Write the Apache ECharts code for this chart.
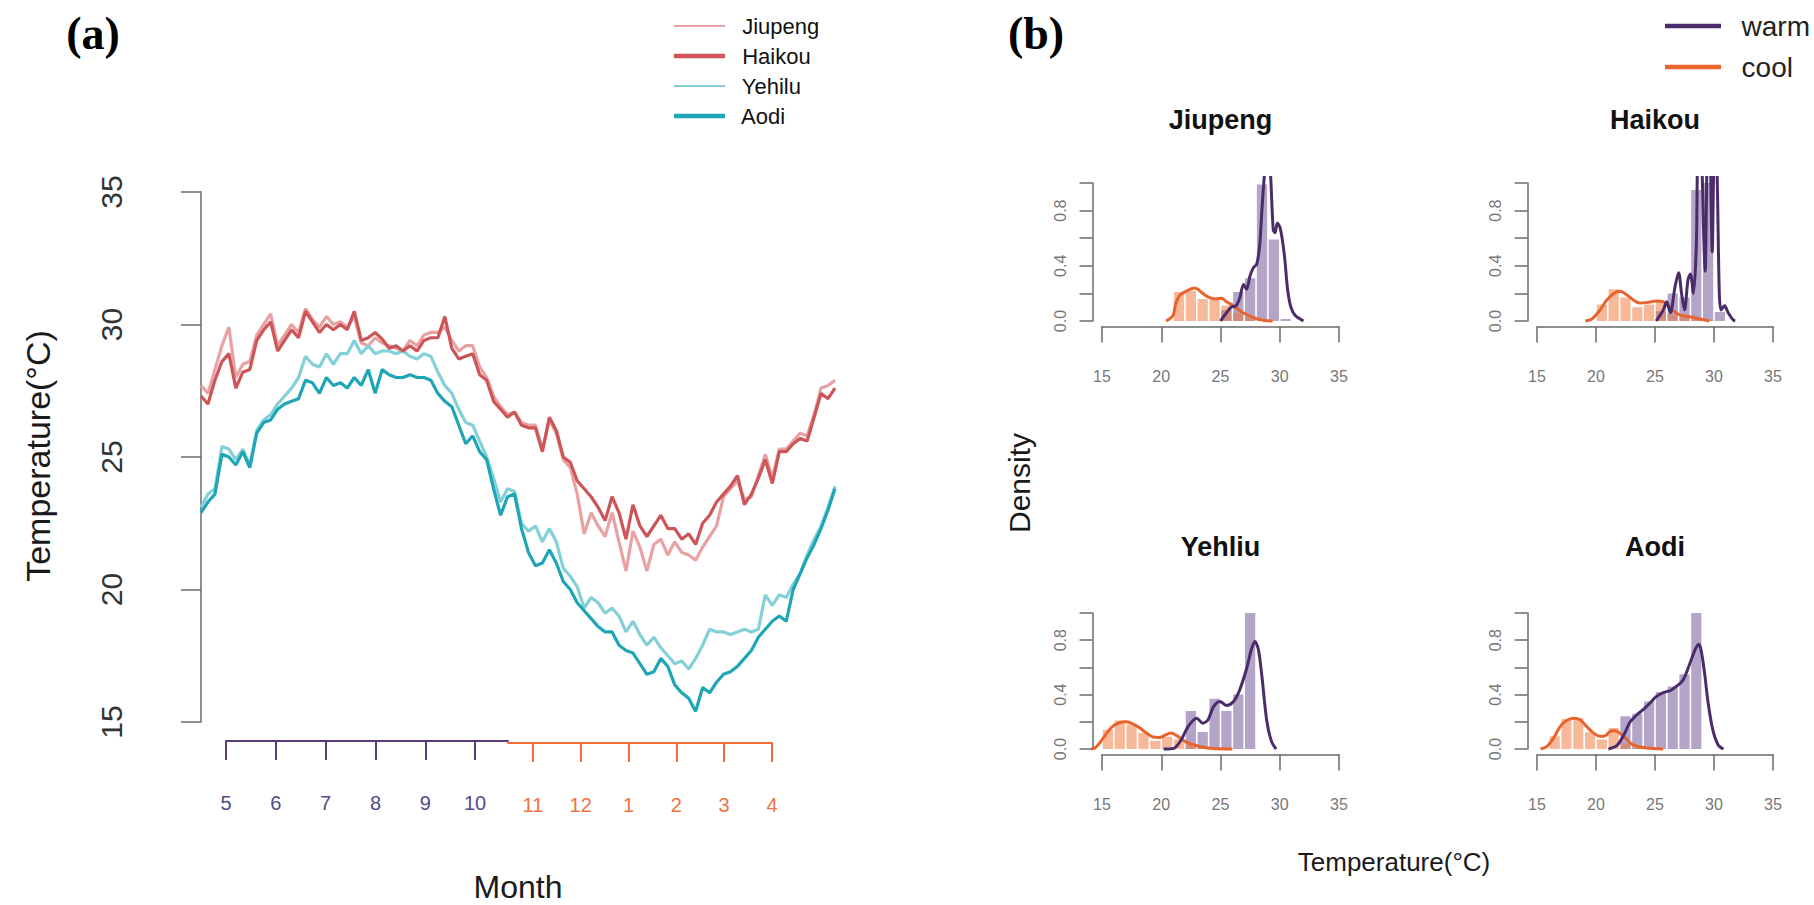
<!DOCTYPE html>
<html>
<head>
<meta charset="utf-8">
<title>Temperature by month and density</title>
<script src="https://cdn.jsdelivr.net/npm/echarts@6/dist/echarts.min.js"></script>
<style>
  html, body { margin: 0; padding: 0; background: #fff; }
  #main { width: 1814px; height: 905px; }
</style>
</head>
<body>
<div id="main"></div>
<script>
// ---- panel (a): temperature every 4 days, starting 1 May ----
var days = [0, 4, 8, 12, 16, 20, 24, 28, 32, 36, 40, 44, 48, 52, 56, 60, 64, 68, 72, 76,
  80, 84, 88, 92, 96, 100, 104, 108, 112, 116, 120, 124, 128, 132, 136, 140, 144, 148, 152, 156,
  160, 164, 168, 172, 176, 180, 184, 188, 192, 196, 200, 204, 208, 212, 216, 220, 224, 228, 232, 236,
  240, 244, 248, 252, 256, 260, 264, 268, 272, 276, 280, 284, 288, 292, 296, 300, 304, 308, 312, 316,
  320, 324, 328, 332, 336, 340, 344, 348, 352, 356, 360, 364];

var jiupeng = [27.7, 27.4, 28.3, 29.2, 29.9, 28.0, 28.5, 28.6, 29.6, 30.0,
  30.4, 29.2, 29.6, 30.0, 29.7, 30.6, 30.2, 29.9, 30.3, 30.0,
  30.1, 29.9, 30.3, 29.3, 29.2, 29.5, 29.3, 29.2, 29.1, 29.0,
  29.4, 29.2, 29.6, 29.7, 29.7, 29.9, 29.4, 29.0, 29.2, 29.2,
  28.4, 28.0, 27.3, 26.9, 26.6, 26.7, 26.3, 26.2, 26.2, 25.3,
  26.4, 25.9, 24.9, 24.6, 23.6, 22.1, 22.9, 22.4, 22.0, 22.9,
  21.8, 20.7, 22.2, 21.6, 20.7, 21.7, 21.9, 21.3, 21.8, 21.4,
  21.3, 21.1, 21.6, 22.0, 22.4, 23.5, 23.8, 24.1, 23.4, 23.5,
  24.3, 25.1, 24.2, 25.3, 25.3, 25.6, 25.9, 25.8, 26.6, 27.6,
  27.7, 27.9];
var haikou = [27.3, 27.0, 27.9, 28.6, 28.9, 27.6, 28.2, 28.3, 29.4, 29.8,
  30.1, 29.0, 29.4, 29.8, 29.5, 30.5, 30.1, 29.7, 30.0, 29.8,
  30.0, 29.8, 30.5, 29.4, 29.5, 29.7, 29.45, 29.1, 29.2, 29.0,
  29.2, 29.0, 29.4, 29.5, 29.5, 30.3, 29.1, 28.7, 28.8, 28.9,
  28.1, 27.9, 27.1, 26.8, 26.5, 26.7, 26.2, 26.1, 26.1, 25.2,
  26.5, 26.0, 25.0, 24.8, 24.1, 23.8, 23.5, 23.1, 22.6, 23.5,
  22.9, 21.9, 23.2, 22.4, 22.0, 22.4, 22.8, 22.3, 22.3, 21.9,
  22.1, 21.7, 22.5, 22.8, 23.3, 23.6, 23.9, 24.3, 23.2, 23.6,
  24.2, 24.9, 24.0, 25.2, 25.2, 25.5, 25.7, 25.6, 26.5, 27.4,
  27.2, 27.6];
var yehilu = [23.1, 23.6, 23.8, 25.4, 25.3, 24.9, 25.3, 24.7, 26.0, 26.4,
  26.6, 27.0, 27.3, 27.6, 28.0, 28.8, 28.5, 28.4, 28.9, 28.5,
  28.9, 28.9, 29.4, 28.9, 29.2, 28.9, 29.0, 29.0, 28.9, 29.0,
  28.8, 28.7, 28.9, 28.8, 28.2, 27.7, 27.4, 26.8, 26.3, 26.2,
  25.6, 25.0, 24.2, 23.3, 23.8, 23.7, 22.5, 22.2, 22.4, 21.8,
  22.3, 21.8, 20.8, 20.5, 20.1, 19.3, 19.7, 19.5, 19.1, 19.3,
  19.0, 18.4, 18.8, 18.3, 17.9, 18.2, 17.8, 17.5, 17.2, 17.3,
  17.0, 17.4, 17.9, 18.5, 18.4, 18.4, 18.3, 18.4, 18.5, 18.4,
  18.5, 19.8, 19.4, 19.8, 19.7, 20.2, 20.6, 21.3, 21.9, 22.4,
  23.1, 23.9];
var aodi = [22.9, 23.3, 23.6, 25.1, 25.0, 24.7, 25.2, 24.6, 25.9, 26.3,
  26.4, 26.8, 27.0, 27.1, 27.2, 27.9, 27.8, 27.4, 28.0, 27.7,
  27.8, 27.6, 28.0, 27.7, 28.3, 27.4, 28.3, 28.1, 28.0, 28.0,
  28.1, 28.0, 28.0, 27.9, 27.4, 27.1, 26.9, 26.2, 25.5, 25.8,
  25.2, 24.9, 23.8, 22.8, 23.5, 23.6, 22.3, 21.4, 20.9, 21.0,
  21.5, 21.0, 20.3, 20.0, 19.5, 19.2, 18.9, 18.6, 18.4, 18.4,
  17.9, 17.7, 17.6, 17.2, 16.8, 16.9, 17.4, 17.1, 16.4, 16.1,
  15.9, 15.4, 16.3, 16.1, 16.5, 16.8, 16.9, 17.1, 17.4, 17.7,
  18.2, 18.5, 18.8, 19.0, 18.8, 20.0, 20.6, 21.2, 21.7, 22.3,
  23.0, 23.8];

var warmMonths = ['5', '6', '7', '8', '9', '10'];
var coolMonths = ['11', '12', '1', '2', '3', '4'];

// ---- panel (b): histograms (1 degree bins) and density curves ----
var jiupengCoolStart = 21, jiupengCoolBins = [0.21, 0.22, 0.16, 0.16, 0.11, 0.06, 0.03, 0.01];
var jiupengWarmStart = 25, jiupengWarmBins = [0.08, 0.21, 0.31, 0.99, 0.59, 0.015];
var jiupengCoolX = [20.4, 21.0, 21.2, 21.6, 22.2, 22.8, 23.1, 23.65, 24.1, 24.6, 25.1, 25.5, 26.1, 26.9, 27.8, 28.6, 29.4];
var jiupengCoolY = [0, 0.04, 0.12, 0.19, 0.22, 0.24, 0.23, 0.19, 0.17, 0.16, 0.165, 0.14, 0.11, 0.06, 0.025, 0.005, 0];
var jiupengWarmX = [25.0, 25.5, 25.9, 26.3, 26.6, 26.95, 27.2, 27.5, 27.8, 28.05, 28.3, 28.5, 28.75, 29.0, 29.2, 29.45, 29.6, 29.8, 30.05, 30.4, 30.66, 30.94, 31.3, 32.0];
var jiupengWarmY = [0, 0.06, 0.10, 0.11, 0.16, 0.265, 0.23, 0.33, 0.39, 0.41, 0.54, 0.81, 1.1, 1.25, 1.1, 0.66, 0.64, 0.71, 0.67, 0.47, 0.23, 0.10, 0.04, 0];

var haikouCoolStart = 20, haikouCoolBins = [0.12, 0.23, 0.17, 0.10, 0.12, 0.14, 0.05, 0.03, 0.02, 0.01];
var haikouWarmStart = 25, haikouWarmBins = [0.07, 0.20, 0.17, 0.95, 1.0, 0.065];
var haikouCoolX = [19.1, 19.65, 20.35, 20.9, 21.5, 22.05, 22.6, 23.2, 23.7, 24.4, 25.1, 25.7, 26.3, 27.1, 28.0, 28.8, 29.6];
var haikouCoolY = [0, 0.015, 0.08, 0.15, 0.2, 0.215, 0.19, 0.15, 0.13, 0.135, 0.145, 0.14, 0.09, 0.045, 0.03, 0.015, 0];
var haikouWarmX = [25.1, 25.7, 26.0, 26.3, 26.7, 27.0, 27.25, 27.5, 27.8, 28.0, 28.25, 28.5, 28.62, 28.8, 28.95, 29.1, 29.25, 29.42, 29.55, 29.68, 29.85, 30.0, 30.15, 30.28, 30.45, 30.6, 30.9, 31.2, 31.6, 31.8];
var haikouWarmY = [0, 0.08, 0.14, 0.06, 0.25, 0.35, 0.2, 0.08, 0.3, 0.34, 0.2, 0.54, 1.2, 1.3, 1.2, 0.7, 0.36, 1.2, 1.3, 1.2, 0.5, 1.2, 1.3, 1.0, 0.2, 0.08, 0.11, 0.06, 0.01, 0];

var yehliuCoolStart = 15, yehliuCoolBins = [0.14, 0.21, 0.18, 0.12, 0.06, 0.09, 0.07, 0.04, 0.02, 0.01];
var yehliuWarmStart = 22, yehliuWarmBins = [0.28, 0.125, 0.37, 0.28, 0.40, 1.0];
var yehliuCoolX = [14.0, 14.4, 14.8, 15.4, 15.9, 16.5, 17.05, 17.6, 18.2, 18.75, 19.3, 19.9, 20.4, 20.85, 21.4, 22.0, 22.7, 23.4, 24.4, 26.0];
var yehliuCoolY = [0, 0.007, 0.044, 0.117, 0.166, 0.195, 0.2, 0.185, 0.154, 0.117, 0.088, 0.085, 0.105, 0.117, 0.093, 0.056, 0.032, 0.015, 0.003, 0];
var yehliuWarmX = [20.2, 21.1, 21.7, 22.3, 23.0, 23.5, 23.95, 24.4, 24.95, 25.5, 26.1, 26.6, 27.2, 27.6, 27.9, 28.2, 28.5, 28.9, 29.3, 29.7];
var yehliuWarmY = [0, 0.007, 0.07, 0.17, 0.227, 0.19, 0.215, 0.31, 0.35, 0.32, 0.35, 0.43, 0.59, 0.73, 0.79, 0.73, 0.53, 0.21, 0.056, 0];

var aodiCoolStart = 16, aodiCoolBins = [0.093, 0.22, 0.227, 0.124, 0.07, 0.154, 0.04, 0.01, 0.005];
var aodiWarmStart = 22, aodiWarmBins = [0.24, 0.26, 0.35, 0.42, 0.46, 0.55, 1.0];
var aodiCoolX = [15.3, 15.85, 16.4, 16.97, 17.5, 18.1, 18.66, 19.2, 19.8, 20.35, 20.8, 21.2, 21.6, 22.0, 22.5, 22.9, 23.45, 24.3, 25.7];
var aodiCoolY = [0, 0.02, 0.08, 0.166, 0.21, 0.227, 0.215, 0.166, 0.117, 0.093, 0.098, 0.13, 0.134, 0.117, 0.08, 0.044, 0.02, 0.007, 0];
var aodiWarmX = [21.05, 21.76, 22.3, 22.9, 23.45, 24.0, 24.6, 25.1, 25.7, 26.3, 26.8, 27.4, 27.96, 28.4, 28.7, 28.9, 29.2, 29.5, 29.9, 30.35, 30.8];
var aodiWarmY = [0, 0.024, 0.093, 0.2, 0.25, 0.29, 0.34, 0.385, 0.415, 0.43, 0.46, 0.51, 0.63, 0.73, 0.77, 0.73, 0.56, 0.34, 0.14, 0.03, 0];

var densityLabels = [0, 0.4, 0.8];

// ---- styles / layout ----
var FONT = 'Liberation Sans, Arial, Helvetica, sans-serif';
var SERIF = 'Liberation Serif, Times New Roman, serif';
var C_JIU = '#e9a2a4', C_HAI = '#cd5558', C_YEH = '#84d0d8', C_AOD = '#1fa6b6';
var C_WARM = '#4b2c6b', C_COOL = '#e8642c';
var C_WARM_BAR = 'rgba(105,75,145,0.5)', C_COOL_BAR = 'rgba(242,115,55,0.5)';
var C_AXIS = '#6a6a6a';
// legend line icons: a thin and a thick bar inside the same 50x15 box
var ICON_THIN = 'path://M0,0h0.05v0.05h-0.05zM0,6.5h50v2h-50zM49.95,14.95h0.05v0.05h-0.05z';
var ICON_THICK = 'path://M0,0h0.05v0.05h-0.05zM0,5.3h50v4.4h-50zM49.95,14.95h0.05v0.05h-0.05z';

var grids = [], xAxes = [], yAxes = [], series = [], graphics = [];

function addGrid(g, xa, ya) {
  grids.push(g);
  var i = grids.length - 1;
  xa.gridIndex = i; ya.gridIndex = i;
  xAxes.push(xa); yAxes.push(ya);
  return i;
}
function pairs(xs, ys) {
  return xs.map(function (x, i) { return [x, ys[i]]; });
}
function bins(start, hs) {
  return hs.map(function (h, i) { return [start + i, start + i + 1, h]; });
}
function histItem(color) {
  return function (params, api) {
    var a = api.coord([api.value(0), api.value(2)]);
    var b = api.coord([api.value(1), 0]);
    return {
      type: 'rect',
      shape: { x: a[0] + 0.8, y: a[1], width: b[0] - a[0] - 1.6, height: b[1] - a[1] },
      style: { fill: color }
    };
  };
}
function addText(text, x, y, size, opts) {
  opts = opts || {};
  graphics.push({
    type: 'text', x: x, y: y, rotation: opts.rot || 0, silent: true,
    style: {
      text: text, fontSize: size, fontFamily: opts.family || FONT,
      fontWeight: opts.weight || 'normal', fill: opts.color || '#1a1a1a',
      align: 'center', verticalAlign: 'middle'
    }
  });
}
var hidden = { show: false };

// panel (a) main plot
var gA = addGrid({ left: 201, top: 192, width: 634, height: 530 },
  { type: 'value', min: 0, max: 364, show: false },
  { type: 'value', min: 15, max: 35, interval: 5, offset: 25,
    axisLine: { show: true, lineStyle: { color: C_AXIS, width: 1.5 } },
    axisTick: { show: true, length: 20, lineStyle: { color: C_AXIS, width: 1.5 } },
    axisLabel: { rotate: 90, fontSize: 30, fontFamily: FONT, color: '#333', margin: 50 },
    splitLine: hidden });

[['Jiupeng', jiupeng, C_JIU], ['Yehilu', yehilu, C_YEH], ['Haikou', haikou, C_HAI], ['Aodi', aodi, C_AOD]]
  .forEach(function (s) {
    series.push({
      name: s[0], type: 'line', xAxisIndex: gA, yAxisIndex: gA,
      data: pairs(days, s[1]), symbol: 'none',
      lineStyle: { color: s[2], width: 3.2 }, itemStyle: { color: s[2] }
    });
  });

// month axis, warm part and cool part
function monthAxis(left, width, bottom, min, max, labels, color, labelColor) {
  var idx = labels.map(function (m, i) { return i; });
  addGrid({ left: left, top: bottom - 40, width: width, height: 40 },
    { type: 'value', min: min, max: max,
      axisLine: { show: true, lineStyle: { color: color, width: 2 } },
      axisTick: { show: true, customValues: idx, length: 19, lineStyle: { color: color, width: 2 } },
      axisLabel: { customValues: idx, margin: 52, fontSize: 20, fontFamily: FONT, color: labelColor,
        formatter: function (v) { return labels[Math.round(v)]; } },
      splitLine: hidden },
    { type: 'value', min: 0, max: 1, show: false });
}
monthAxis(226, 282, 741, 0, 5.66, warmMonths, '#5a3d78', '#4f4c86');
monthAxis(508, 264, 743, -0.52, 5, coolMonths, '#f26b35', '#f27340');

// panel (b) small multiples
var panelB = [
  { title: 'Jiupeng', frame: [1102, 1339, 183, 321], titleY: 120,
    cool: [jiupengCoolStart, jiupengCoolBins, jiupengCoolX, jiupengCoolY],
    warm: [jiupengWarmStart, jiupengWarmBins, jiupengWarmX, jiupengWarmY] },
  { title: 'Haikou', frame: [1537, 1773, 183, 321], titleY: 120,
    cool: [haikouCoolStart, haikouCoolBins, haikouCoolX, haikouCoolY],
    warm: [haikouWarmStart, haikouWarmBins, haikouWarmX, haikouWarmY] },
  { title: 'Yehliu', frame: [1102, 1339, 613, 749], titleY: 547,
    cool: [yehliuCoolStart, yehliuCoolBins, yehliuCoolX, yehliuCoolY],
    warm: [yehliuWarmStart, yehliuWarmBins, yehliuWarmX, yehliuWarmY] },
  { title: 'Aodi', frame: [1537, 1773, 613, 749], titleY: 547,
    cool: [aodiCoolStart, aodiCoolBins, aodiCoolX, aodiCoolY],
    warm: [aodiWarmStart, aodiWarmBins, aodiWarmX, aodiWarmY] }
];

panelB.forEach(function (p) {
  var x15 = p.frame[0], x35 = p.frame[1], y1 = p.frame[2], y0 = p.frame[3];
  var px = (x35 - x15) / 20, py = y0 - y1;
  var left = x15 - 0.8 * px, top = y1 - 0.04 * py;
  var width = 21.6 * px, height = 1.08 * py;

  // plotting region
  var g = addGrid({ left: left, top: top, width: width, height: height },
    { type: 'value', min: 14.2, max: 35.8, show: false },
    { type: 'value', min: -0.04, max: 1.04, show: false });

  // x axis drawn from 15 to 35 along the bottom of the region
  addGrid({ left: x15, top: top + height - 1, width: x35 - x15, height: 1 },
    { type: 'value', min: 15, max: 35, interval: 5,
      axisLine: { show: true, lineStyle: { color: C_AXIS, width: 1.5 } },
      axisTick: { show: true, length: 16, lineStyle: { color: C_AXIS, width: 1.5 } },
      axisLabel: { margin: 42, fontSize: 16, fontFamily: FONT, color: '#777' },
      splitLine: hidden },
    { type: 'value', min: 0, max: 1, show: false });

  // y axis drawn from 0 to 1 along the left of the region
  addGrid({ left: left, top: y1, width: 1, height: py },
    { type: 'value', min: 0, max: 1, show: false },
    { type: 'value', min: 0, max: 1, interval: 0.2,
      axisLine: { show: true, lineStyle: { color: C_AXIS, width: 1.5 } },
      axisTick: { show: true, length: 13, lineStyle: { color: C_AXIS, width: 1.5 } },
      axisLabel: { customValues: densityLabels, rotate: 90, margin: 24, fontSize: 16, fontFamily: FONT, color: '#777',
        formatter: function (v) { return v.toFixed(1); } },
      splitLine: hidden });

  series.push({
    name: 'warmHist', type: 'custom', xAxisIndex: g, yAxisIndex: g, clip: true,
    renderItem: histItem(C_WARM_BAR), encode: { x: [0, 1], y: 2 },
    data: bins(p.warm[0], p.warm[1])
  });
  series.push({
    name: 'coolHist', type: 'custom', xAxisIndex: g, yAxisIndex: g, clip: true,
    renderItem: histItem(C_COOL_BAR), encode: { x: [0, 1], y: 2 },
    data: bins(p.cool[0], p.cool[1])
  });
  series.push({
    name: 'cool', type: 'line', xAxisIndex: g, yAxisIndex: g, smooth: 0.3, symbol: 'none', clip: true,
    data: pairs(p.cool[2], p.cool[3]),
    lineStyle: { color: C_COOL, width: 3 }, itemStyle: { color: C_COOL }
  });
  series.push({
    name: 'warm', type: 'line', xAxisIndex: g, yAxisIndex: g, smooth: 0.3, symbol: 'none', clip: true,
    data: pairs(p.warm[2], p.warm[3]),
    lineStyle: { color: C_WARM, width: 3 }, itemStyle: { color: C_WARM }
  });

  addText(p.title, (x15 + x35) / 2, p.titleY, 27, { weight: 'bold', color: '#111' });
});

// free text
addText('(a)', 93, 33, 46, { weight: 'bold', family: SERIF, color: '#000' });
addText('(b)', 1036, 33, 46, { weight: 'bold', family: SERIF, color: '#000' });
addText('Temperature(\u00b0C)', 38, 456, 34, { rot: Math.PI / 2 });
addText('Month', 518, 887, 32);
addText('Density', 1019, 483, 30, { rot: Math.PI / 2 });
addText('Temperature(\u00b0C)', 1394, 862, 26);

var chart = echarts.init(document.getElementById('main'), null, { renderer: 'svg' });
chart.setOption({
  animation: false,
  backgroundColor: '#fff',
  legend: [
    {
      orient: 'vertical', left: 669, top: 10, itemWidth: 51, itemHeight: 15, itemGap: 8,
      selectedMode: false, symbolKeepAspect: false, formatter: '  {name}',
      textStyle: { fontSize: 22, fontFamily: FONT, color: '#111', lineHeight: 22 },
      data: [
        { name: 'Jiupeng', icon: ICON_THIN },
        { name: 'Haikou', icon: ICON_THICK },
        { name: 'Yehilu', icon: ICON_THIN },
        { name: 'Aodi', icon: ICON_THICK }
      ]
    },
    {
      orient: 'vertical', left: 1660, top: 7, itemWidth: 56, itemHeight: 15, itemGap: 13,
      selectedMode: false, symbolKeepAspect: false, formatter: '  {name}',
      textStyle: { fontSize: 28, fontFamily: FONT, color: '#222', lineHeight: 28 },
      data: [
        { name: 'warm', icon: ICON_THICK },
        { name: 'cool', icon: ICON_THICK }
      ]
    }
  ],
  grid: grids,
  xAxis: xAxes,
  yAxis: yAxes,
  series: series,
  graphic: graphics
});
</script>
</body>
</html>
